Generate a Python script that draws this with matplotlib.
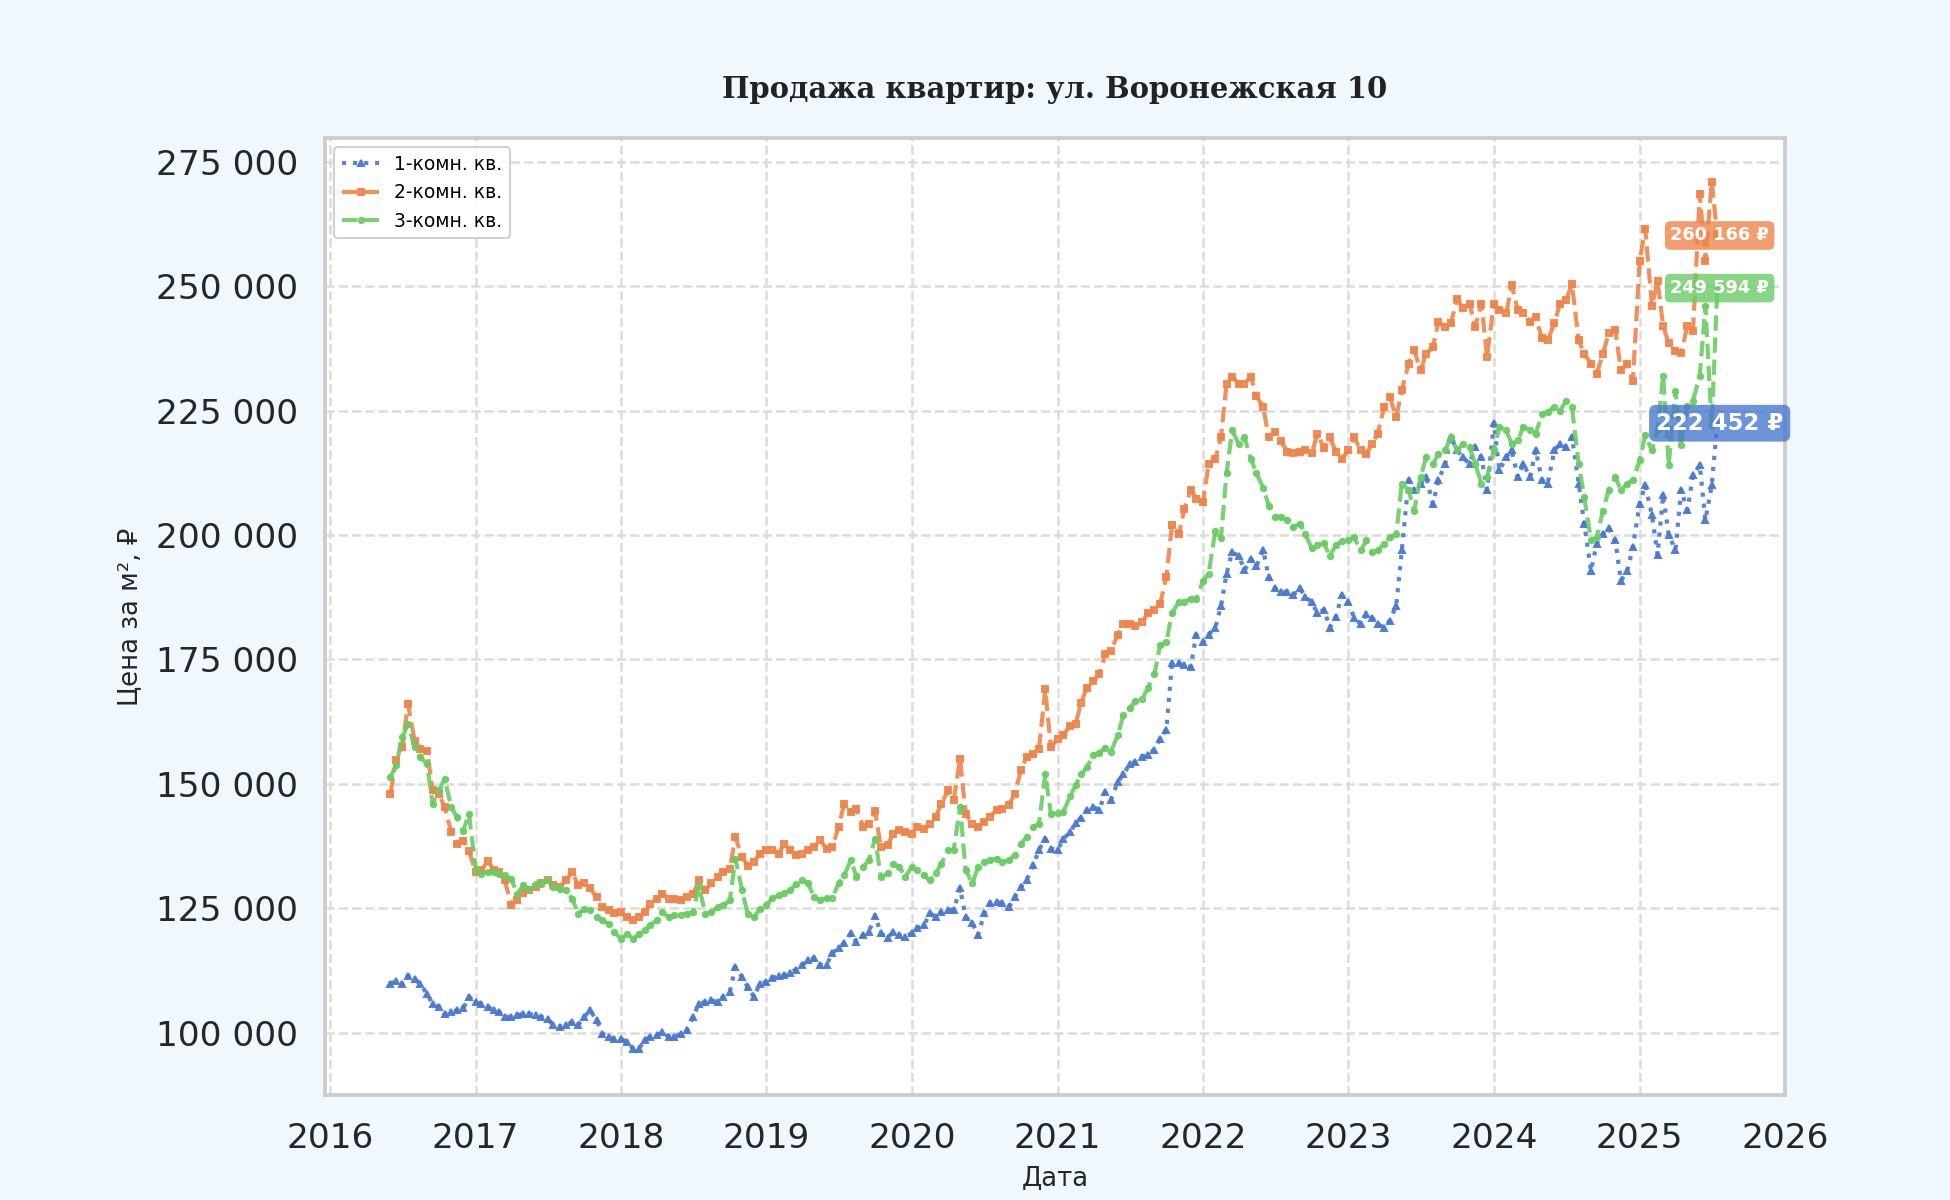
import numpy as np
import pandas as pd
import matplotlib
matplotlib.use("Agg")
import matplotlib.pyplot as plt
import matplotlib.dates as mdates
from matplotlib.ticker import FuncFormatter, MultipleLocator

# Даты: 1-е и 15-е число каждого месяца
dates = pd.date_range("2016-06-01", "2025-07-15", freq="SMS")

# Цена за м², тыс. ₽
room1 = [
    109.8, 110.5, 109.8, 111.5, 110.8, 109.8, 107.8, 105.8, 105.2, 103.8,
    104.2, 104.5, 104.9, 107.2, 106.2, 105.8, 105.2, 104.5, 104.2, 103.2,
    103.2, 103.5, 103.8, 103.8, 103.5, 103.2, 102.8, 101.5, 101.2, 101.5,
    102.2, 101.5, 103.2, 104.5, 102.5, 99.8, 99.2, 98.8, 98.8, 98.2,
    96.8, 96.8, 98.5, 99.2, 99.5, 100.2, 99.2, 99.2, 99.8, 100.5,
    103.2, 105.8, 106.2, 106.5, 106.2, 107.2, 108.2, 113.2, 111.2, 109.2,
    107.2, 109.8, 110.2, 111.0, 111.5, 111.6, 112.0, 112.7, 113.6, 114.6,
    115.0, 113.6, 113.6, 116.0, 117.0, 118.0, 120.0, 118.3, 119.6, 120.3,
    123.5, 120.0, 119.0, 120.3, 119.6, 119.3, 120.0, 121.0, 121.6, 124.0,
    123.3, 124.3, 124.7, 124.7, 129.0, 123.3, 122.0, 119.6, 124.0, 126.0,
    126.3, 126.0, 125.3, 127.3, 129.3, 130.6, 133.7, 136.7, 139.0, 137.0,
    136.7, 138.9, 140.3, 142.1, 143.2, 144.7, 145.4, 144.7, 148.3, 146.8,
    150.4, 151.9, 154.0, 154.4, 155.5, 155.8, 156.9, 159.1, 160.9, 174.2,
    174.2, 173.8, 173.5, 180.0, 178.5, 180.0, 181.4, 185.7, 192.2, 196.5,
    195.8, 192.9, 195.1, 193.7, 197.0, 191.5, 189.3, 188.6, 188.6, 187.9,
    189.3, 187.5, 186.5, 184.3, 185.0, 181.4, 183.6, 187.9, 186.5, 183.4,
    182.1, 184.1, 183.4, 182.1, 181.4, 182.8, 185.8, 196.9, 211.0, 209.0,
    210.3, 211.6, 206.3, 211.0, 214.3, 219.7, 217.0, 215.6, 214.3, 217.7,
    215.6, 209.0, 222.4, 213.0, 215.6, 217.0, 211.6, 214.3, 211.6, 217.0,
    211.0, 210.3, 217.0, 218.3, 217.7, 219.7, 210.3, 202.2, 192.8, 198.2,
    200.2, 201.5, 198.9, 190.8, 192.8, 197.5, 206.3, 210.0, 204.0, 196.0,
    208.0, 200.0, 197.0, 209.0, 205.0, 212.0, 214.0, 203.0, 210.0, 222.452,
]
room2 = [
    148.0, 154.7, 157.4, 166.0, 158.7, 157.0, 156.7, 148.7, 148.0, 145.3,
    140.3, 138.0, 138.6, 136.6, 132.3, 132.6, 134.6, 132.6, 132.3, 130.6,
    125.6, 126.6, 128.0, 128.6, 129.3, 130.0, 130.6, 129.6, 129.3, 130.6,
    132.3, 129.6, 130.0, 129.0, 127.3, 125.2, 124.6, 124.0, 124.2, 123.2,
    122.6, 123.2, 124.2, 125.9, 126.9, 127.9, 126.9, 126.9, 126.6, 127.2,
    127.9, 130.6, 128.6, 130.0, 131.3, 132.3, 133.0, 139.3, 135.3, 133.6,
    134.3, 136.0, 136.7, 136.7, 136.0, 138.0, 136.7, 135.7, 136.0, 136.7,
    137.3, 138.7, 137.0, 137.3, 141.3, 146.0, 144.4, 145.0, 141.3, 142.0,
    144.5, 137.3, 137.7, 140.0, 140.7, 140.3, 140.0, 141.3, 141.0, 142.0,
    143.4, 146.0, 148.7, 146.7, 155.0, 144.0, 142.0, 141.3, 142.4, 143.4,
    144.7, 145.0, 145.7, 148.0, 152.7, 155.4, 156.0, 157.0, 169.0, 157.4,
    159.0, 159.8, 161.6, 162.0, 166.3, 169.2, 170.6, 172.0, 176.0, 176.7,
    180.0, 182.1, 182.1, 181.8, 182.5, 184.3, 185.0, 186.1, 191.5, 202.0,
    200.1, 205.2, 209.1, 207.3, 206.6, 214.2, 215.3, 219.6, 230.4, 231.8,
    230.4, 230.4, 231.8, 227.9, 225.7, 219.6, 220.7, 218.9, 216.7, 216.4,
    216.7, 217.1, 216.4, 220.3, 217.4, 219.6, 216.7, 215.3, 217.0, 219.7,
    217.0, 216.3, 218.3, 220.3, 225.7, 227.7, 223.7, 229.1, 234.4, 237.1,
    233.1, 236.4, 237.8, 242.8, 241.8, 242.5, 247.5, 245.5, 246.5, 241.8,
    246.5, 235.8, 246.5, 245.2, 244.5, 250.2, 245.2, 244.5, 242.8, 243.8,
    239.5, 239.1, 242.5, 246.5, 247.2, 250.5, 239.1, 236.4, 234.4, 232.4,
    236.4, 240.5, 241.1, 233.1, 234.4, 231.0, 255.0, 261.5, 246.0, 251.0,
    242.0, 238.5, 237.0, 236.5, 242.0, 241.0, 268.5, 255.0, 271.0, 260.166,
]
room3 = [
    151.3, 153.7, 159.4, 162.0, 157.4, 155.4, 154.0, 146.0, 148.7, 151.0,
    145.3, 143.3, 140.6, 144.0, 133.0, 131.9, 132.3, 132.3, 131.9, 131.6,
    130.9, 127.9, 129.6, 128.9, 129.9, 129.9, 130.6, 129.3, 128.9, 128.6,
    126.9, 123.9, 124.9, 124.6, 123.2, 122.6, 121.9, 120.2, 118.9, 119.9,
    118.9, 119.9, 120.6, 121.6, 122.6, 124.2, 123.2, 123.6, 123.6, 123.9,
    124.2, 129.5, 123.9, 124.2, 125.2, 125.6, 126.6, 135.0, 128.6, 123.9,
    123.2, 124.9, 125.6, 127.0, 127.6, 128.1, 128.6, 129.8, 130.6, 130.0,
    127.3, 126.6, 127.0, 127.0, 130.0, 131.6, 134.7, 131.3, 133.3, 134.7,
    139.0, 131.3, 132.0, 134.0, 133.3, 131.3, 133.3, 132.7, 131.6, 130.6,
    132.0, 134.0, 136.7, 136.7, 145.4, 132.7, 130.0, 133.3, 134.3, 134.7,
    135.0, 134.3, 134.7, 135.7, 138.0, 139.3, 141.3, 142.0, 152.0, 144.0,
    144.2, 144.3, 147.5, 149.7, 151.9, 153.3, 155.8, 156.2, 157.3, 156.5,
    159.8, 163.8, 165.2, 166.6, 167.0, 169.2, 172.0, 177.8, 178.5, 184.3,
    186.5, 186.5, 187.2, 187.2, 190.8, 192.2, 200.9, 199.4, 212.4, 221.0,
    218.2, 219.6, 215.3, 212.4, 209.5, 205.9, 203.7, 203.7, 203.0, 201.6,
    202.3, 200.1, 197.3, 198.0, 198.3, 195.8, 198.0, 198.7, 199.0, 199.5,
    196.9, 198.9, 196.5, 196.9, 198.2, 199.5, 200.2, 210.3, 209.0, 204.9,
    211.6, 215.6, 214.3, 216.3, 217.0, 219.7, 217.0, 218.3, 217.7, 214.3,
    210.3, 211.6, 217.0, 221.7, 221.0, 218.3, 219.0, 221.7, 221.0, 220.3,
    224.4, 224.7, 225.7, 225.0, 227.0, 225.7, 214.3, 207.6, 198.9, 199.5,
    204.9, 209.0, 211.6, 209.0, 210.3, 211.0, 215.0, 220.0, 217.0, 221.0,
    232.0, 214.0, 229.0, 218.0, 226.0, 227.0, 232.0, 246.0, 222.0, 249.594,
]

labels = ["1-комн. кв.", "2-комн. кв.", "3-комн. кв."]
colors = ["#4878d0", "#ee854a", "#6acc64"]
styles = [":", "--", "--"]
markers = ["^", "s", "o"]
label_sizes = [11, 8.5, 8.5]

plt.rcParams["font.family"] = ["DejaVu Sans"]

fig = plt.figure(figsize=(13, 8), dpi=150, facecolor="#f0f8ff")
ax = fig.add_axes([0.1667, 0.0875, 0.7487, 0.7975])
ax.set_facecolor("white")

for vals, lab, col, ls, mk, fs in zip([room1, room2, room3], labels, colors,
                                      styles, markers, label_sizes):
    prices = np.array(vals) * 1000
    ax.plot(dates, prices, linestyle=ls, marker=mk, markersize=2.6,
            linewidth=2.0, color=col, alpha=0.9, label=lab)
    last = prices[-1]
    txt = f"{last:,.0f}".replace(",", " ") + " ₽"
    ax.text(dates[-1] + pd.Timedelta(days=6), last, txt, ha="center",
            va="center", color="white", fontsize=fs, fontweight="bold",
            bbox=dict(boxstyle="round,pad=0.3", fc=col, ec="none", alpha=0.8),
            zorder=5)

ax.set_xlim(pd.Timestamp("2015-12-20"), pd.Timestamp("2026-01-01"))
ax.set_ylim(87500, 279750)
ax.xaxis.set_major_locator(mdates.YearLocator())
ax.xaxis.set_major_formatter(mdates.DateFormatter("%Y"))
ax.yaxis.set_major_locator(MultipleLocator(25000))
ax.yaxis.set_major_formatter(FuncFormatter(lambda v, p: f"{v:,.0f}".replace(",", " ")))

ax.grid(True, linestyle="--", color="#dcdcdc", linewidth=1.2)
ax.set_axisbelow(True)
ax.tick_params(axis="both", length=0, pad=13, labelsize=16.5, labelcolor="#262626")
for sp in ax.spines.values():
    sp.set_color("#cccccc")
    sp.set_linewidth(1.8)

ax.set_title("Продажа квартир: ул. Воронежская 10", fontsize=13.9,
             fontweight="bold", family="DejaVu Serif", color="#222222", pad=19)
ax.set_xlabel("Дата", fontsize=12.5, color="#262626", labelpad=5)
ax.set_ylabel("Цена за м², ₽", fontsize=12.5, color="#262626", labelpad=6)

leg = ax.legend(loc="upper left", fontsize=9, frameon=True, framealpha=0.9)
leg.get_frame().set_edgecolor("#cccccc")

fig.savefig("out.png", dpi=150, facecolor=fig.get_facecolor())
